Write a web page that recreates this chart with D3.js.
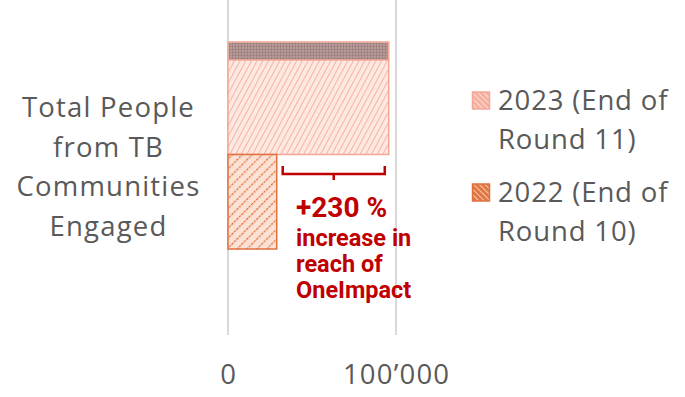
<!DOCTYPE html>
<html><head><meta charset="utf-8">
<script src="https://cdn.jsdelivr.net/npm/d3@7/dist/d3.min.js"></script>
<style>body{margin:0;background:#fff}svg{display:block}</style>
</head><body><svg id="c" width="685" height="397"></svg>
<script>
const categoryLabel = ["Total People", "from TB", "Communities", "Engaged"];
const seriesNames = ["2023 (End of Round 11)", "2022 (End of Round 10)"];
const seriesValues = [95700, 29000];
const tickValues = [0, 100000];
const tickLabels = ["0", "100’000"];
const annotation = ["+230 %", "increase in", "reach of", "OneImpact"];
const legendLines = [["2023 (End of","Round 11)"],["2022 (End of","Round 10)"]];

const GREY_FONT = "'Open Sans', sans-serif";
const GREY_SIZE = 27.5, GREY_LS = 1.2;
const svg = d3.select("#c");
const defs = svg.append("defs");
const p1 = defs.append("pattern").attr("id","p2023").attr("patternUnits","userSpaceOnUse")
  .attr("width",5).attr("height",5).attr("patternTransform","rotate(28)");
p1.append("rect").attr("width",5).attr("height",5).attr("fill","#fde8e2");
p1.append("line").attr("x1",0).attr("y1",0).attr("x2",0).attr("y2",5).attr("stroke","#f6b3a3").attr("stroke-width",2);
const p0 = defs.append("pattern").attr("id","pdark").attr("patternUnits","userSpaceOnUse")
  .attr("width",3).attr("height",3);
p0.append("rect").attr("width",3).attr("height",3).attr("fill","#b89a98");
p0.append("circle").attr("cx",1.5).attr("cy",1.5).attr("r",0.9).attr("fill","#8f7675");
const p2 = defs.append("pattern").attr("id","p2022").attr("patternUnits","userSpaceOnUse")
  .attr("width",7).attr("height",7).attr("patternTransform","rotate(45)");
p2.append("rect").attr("width",7).attr("height",7).attr("fill","#fbe2d5");
p2.append("line").attr("x1",0).attr("y1",0).attr("x2",0).attr("y2",7).attr("stroke","#e06b33").attr("stroke-width",2.6).attr("stroke-dasharray","2.2,1.2");
const pl = defs.append("pattern").attr("id","pleg2023").attr("patternUnits","userSpaceOnUse")
  .attr("width",4).attr("height",4).attr("patternTransform","rotate(-45)");
pl.append("rect").attr("width",4).attr("height",4).attr("fill","#f5b09f");
pl.append("line").attr("x1",0).attr("y1",0).attr("x2",0).attr("y2",4).attr("stroke","#fde8e2").attr("stroke-width",1.6);
const pl2 = defs.append("pattern").attr("id","pleg2022").attr("patternUnits","userSpaceOnUse")
  .attr("width",4).attr("height",4).attr("patternTransform","rotate(-45)");
pl2.append("rect").attr("width",4).attr("height",4).attr("fill","#e27540");
pl2.append("line").attr("x1",0).attr("y1",0).attr("x2",0).attr("y2",4).attr("stroke","#fbe2d5").attr("stroke-width",1.6);

const x = d3.scaleLinear().domain([0,100000]).range([228,396]);
const y = d3.scaleBand().domain(seriesNames).range([60,249]).padding(0);
const topBand = 18;

// gridlines
svg.append("g").selectAll("line").data(tickValues).join("line")
  .attr("x1",d=>x(d)).attr("x2",d=>x(d)).attr("y1",0).attr("y2",335)
  .attr("stroke","#d9d9d9").attr("stroke-width",2);

// bars
const fills = ["url(#p2023)","url(#p2022)"];
const strokes = ["#f4a796","#e0703e"];
svg.append("g").selectAll("rect").data(seriesValues).join("rect")
  .attr("x",x(0)).attr("y",(d,i)=>y(seriesNames[i]) - (i===0?topBand:0))
  .attr("width",d=>x(d)-x(0)).attr("height",(d,i)=>y.bandwidth() + (i===0?topBand:0))
  .attr("fill",(d,i)=>fills[i]).attr("stroke",(d,i)=>strokes[i]).attr("stroke-width",1.5);
svg.append("rect").attr("x",x(0)+0.75).attr("y",y(seriesNames[0])-topBand+0.75)
  .attr("width",x(seriesValues[0])-x(0)-1.5).attr("height",topBand-0.75)
  .attr("fill","url(#pdark)");
svg.append("line").attr("x1",x(0)).attr("x2",x(seriesValues[0]))
  .attr("y1",y(seriesNames[0])).attr("y2",y(seriesNames[0]))
  .attr("stroke","#f4a796").attr("stroke-width",1.5);

// bracket
const bx0 = x(seriesValues[1])+6, bx1 = x(seriesValues[0])-4, by = 174, bc=(bx0+bx1)/2;
svg.append("path").attr("d",`M${bx0},166 V${by} H${bx1} V166 M${bc},${by} V180`)
  .attr("fill","none").attr("stroke","#c00000").attr("stroke-width",2.5);

// annotation
const ann = svg.append("g").attr("fill","#c00000").attr("font-family","Roboto, sans-serif").attr("font-weight","bold");
ann.append("text").attr("x",296).attr("y",217).attr("font-size",28).text(annotation[0]);
[246,272,298].forEach((yy,i)=>ann.append("text").attr("x",296).attr("y",yy).attr("font-size",23.5).text(annotation[i+1]));

// category label
svg.append("g").selectAll("text").data(categoryLabel).join("text")
  .attr("x",108.5).attr("y",(d,i)=>117+i*39.6).attr("text-anchor","middle")
  .attr("font-family",GREY_FONT).attr("font-size",GREY_SIZE).attr("letter-spacing",GREY_LS)
  .attr("fill","#595959").text(d=>d);

// axis labels
svg.append("g").selectAll("text").data(tickValues).join("text")
  .attr("x",d=>x(d)+0.6).attr("y",384).attr("text-anchor","middle")
  .attr("font-family",GREY_FONT).attr("font-size",GREY_SIZE).attr("letter-spacing",GREY_LS)
  .attr("fill","#595959").text((d,i)=>tickLabels[i]);

// legend
const legFill = ["url(#pleg2023)","url(#pleg2022)"];
const lg = svg.append("g");
legendLines.forEach((r,i)=>{
  const yy = 110 + i*92;
  lg.append("rect").attr("x",472.5).attr("y",yy-18).attr("width",17).attr("height",17)
    .attr("fill",legFill[i]).attr("stroke",strokes[i]).attr("stroke-width",1.5);
  r.forEach((t,j)=>lg.append("text").attr("x",498).attr("y",yy+j*39)
    .attr("font-family",GREY_FONT).attr("font-size",GREY_SIZE).attr("letter-spacing",0.85)
    .attr("fill","#595959").text(t));
});
</script></body></html>
